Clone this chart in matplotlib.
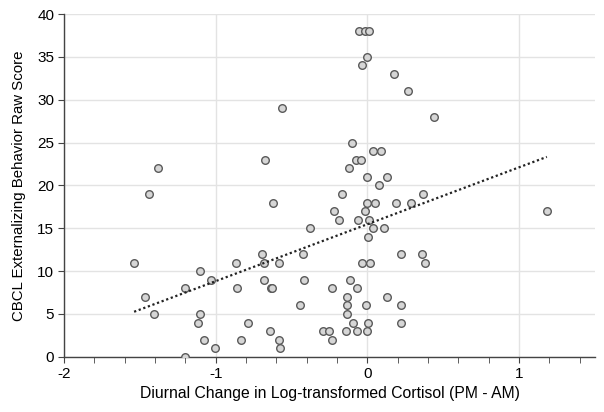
import numpy as np
import matplotlib.pyplot as plt
from matplotlib.ticker import MultipleLocator

# Diurnal change in log cortisol (PM - AM) vs CBCL externalizing score
cortisol_change = [
    -1.379, -1.441, -0.053, -0.015, 0.009, -0.002, -0.033, 0.177, 0.270, -0.565,
    0.437, -0.101, -0.675, 0.040, 0.091, -0.073, -0.042, -0.121, -0.002, 0.126,
    0.077, -0.170, 0.369, -0.625, -0.002, 0.049, 0.190, 0.287, -0.223, -0.013,
    -0.185, -0.064, 0.013, -0.381, 0.040, 0.108, 0.005, -0.693, -0.424, 0.219,
    0.360, -0.684, -0.583, -0.035, 0.016, 0.378, -0.684, -0.415, -0.113, -0.636,
    -0.627, -0.236, -0.070, -0.134, 0.126, -0.446, -0.134, -0.011, 0.219, -0.134,
    -0.785, -0.093, 0.007, 0.219, -0.642, -0.295, -0.251, -0.143, -0.070, -0.002,
    -0.583, -0.236, -0.576, -1.538, -0.868, -1.106, -1.028, -1.205, -0.858, -1.468,
    -1.406, -1.106, -1.119, -1.079, -0.836, -1.006, -1.205, 1.183,
]
cbcl_score = [
    22, 19, 38, 38, 38, 35, 34, 33, 31, 29,
    28, 25, 23, 24, 24, 23, 23, 22, 21, 21,
    20, 19, 19, 18, 18, 18, 18, 18, 17, 17,
    16, 16, 16, 15, 15, 15, 14, 12, 12, 12,
    12, 11, 11, 11, 11, 11, 9, 9, 9, 8,
    8, 8, 8, 7, 7, 6, 6, 6, 6, 5,
    4, 4, 4, 4, 3, 3, 3, 3, 3, 3,
    2, 2, 1, 11, 11, 10, 9, 8, 8, 7,
    5, 5, 4, 2, 2, 1, 0, 17,
]

x = np.array(cortisol_change)
y = np.array(cbcl_score)

plt.rcParams['font.family'] = ['Liberation Sans', 'DejaVu Sans']

fig = plt.figure(figsize=(6.04, 4.12), dpi=100)
ax = fig.add_axes([0.106, 0.134, 0.879, 0.832])

ax.grid(True, which='major', color='#e3e3e3', linewidth=1.0, zorder=0)
ax.scatter(x, y, s=30, facecolor='#d6d6d6', edgecolor='#5a5a5a', linewidth=1.0, zorder=3)

# linear trend line across the data range
slope, intercept = np.polyfit(x, y, 1)
xs = np.array([x.min(), x.max()])
ax.plot(xs, slope * xs + intercept, linestyle=(0, (1, 1.2)), color='#222222', linewidth=1.6, zorder=4)

ax.set_xlim(-2, 1.5)
ax.set_ylim(0, 40)
ax.xaxis.set_major_locator(MultipleLocator(1))
ax.xaxis.set_minor_locator(MultipleLocator(0.2))
ax.yaxis.set_major_locator(MultipleLocator(5))

for side in ['top', 'right']:
    ax.spines[side].set_visible(False)
for side in ['left', 'bottom']:
    ax.spines[side].set_color('#444444')
    ax.spines[side].set_linewidth(1.0)

ax.set_xticks([-2, -1, 0, 1])
ax.set_xticklabels(['-2', '-1', '0', '1'])
ax.tick_params(axis='both', which='major', direction='out', length=4, color='#444444', labelsize=11, pad=3)
ax.tick_params(axis='x', which='minor', direction='out', length=4, color='#444444')

ax.set_xlabel('Diurnal Change in Log-transformed Cortisol (PM - AM)', fontsize=11.3, labelpad=4)
ax.set_ylabel('CBCL Externalizing Behavior Raw Score', fontsize=10.8, labelpad=8)

fig.savefig('out.png', dpi=100)
